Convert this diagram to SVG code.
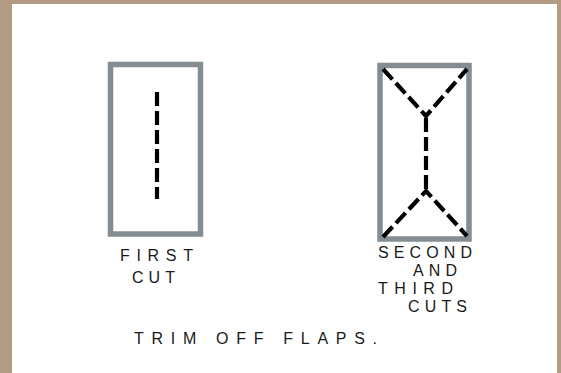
<svg xmlns="http://www.w3.org/2000/svg" width="561" height="373" viewBox="0 0 561 373">
<style>
.frame{fill:none;stroke:#848d91;stroke-width:5.5}
.cut{fill:none;stroke:#000;stroke-width:4.2;stroke-dasharray:14 5}
.lbl{font-family:"Liberation Sans",Arial,sans-serif;font-size:16px;fill:#1a1a1a}
</style>
<rect x="0" y="0" width="561" height="373" fill="#b39b83"/>
<rect x="12" y="4" width="545" height="369" fill="#ffffff"/>
<g id="first-cut">
<rect class="frame" x="110.5" y="64.5" width="90" height="169.5"/>
<line class="cut" x1="157" y1="92" x2="157" y2="199"/>
<text class="lbl" x="120" y="261" textLength="73" lengthAdjust="spacing">FIRST</text>
<text class="lbl" x="132" y="283" textLength="43" lengthAdjust="spacing">CUT</text>
</g>
<g id="second-third-cuts">
<rect class="frame" x="380" y="65.5" width="89" height="173.5"/>
<g id="connectors">
<polyline class="cut" points="383,69 426,116 467,69"/>
<line class="cut" x1="426" y1="118" x2="426" y2="190"/>
<polyline class="cut" points="383,237 426,191 467,236"/>
</g>
<text class="lbl" x="378" y="258" textLength="94" lengthAdjust="spacing">SECOND</text>
<text class="lbl" x="413" y="276" textLength="44" lengthAdjust="spacing">AND</text>
<text class="lbl" x="378" y="294" textLength="75" lengthAdjust="spacing">THIRD</text>
<text class="lbl" x="408" y="312" textLength="59" lengthAdjust="spacing">CUTS</text>
</g>
<text class="lbl" x="134" y="344" textLength="243" lengthAdjust="spacing">TRIM OFF  FLAPS.</text>
</svg>
